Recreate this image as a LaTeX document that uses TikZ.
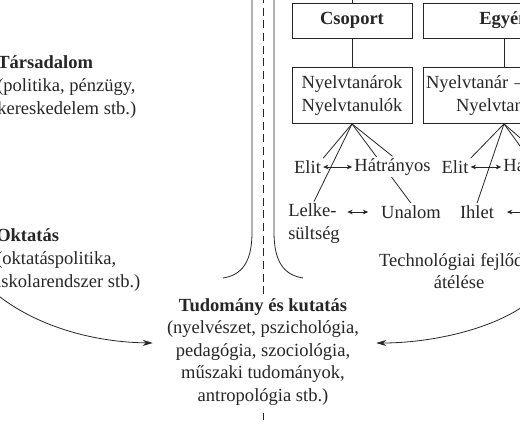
\documentclass[tikz,border=0pt]{standalone}
\usepackage{fontspec}
\setmainfont{Liberation Serif}
\usetikzlibrary{arrows.meta,backgrounds}

\newcommand{\dsize}{\fontsize{13.9}{16.9}\selectfont}

\begin{document}
\begin{tikzpicture}[x=0.75pt,y=-0.75pt,
	every node/.style={font=\dsize,text=black!85},
	kbox/.style={draw=black!85,line width=0.6pt,minimum height=26.25pt,inner sep=0pt},
	txt/.style={fill=white,inner sep=1.5pt},
	line/.style={draw=black!85,line width=0.6pt},
	small arrow/.style={line,{Stealth[length=4pt,width=3.5pt]}-{Stealth[length=4pt,width=3.5pt]}},
	big arrow/.style={line,-{Stealth[length=7.5pt,width=4.5pt]}}
	]

	\useasboundingbox (0,0) rectangle (520,435);
	\clip (0,0) rectangle (520,435);

	% left column
	\node[align=left,anchor=west,inner sep=0pt] (tars) at (-3,87) {\textbf{Társadalom}\\(politika, pénzügy,\\kereskedelem stb.)};
	\node[align=left,anchor=west,inner sep=0pt] (oktatas) at (-4,260) {\textbf{Oktatás}\\(oktatáspolitika,\\iskolarendszer stb.)};

	% boxes
	\node[kbox,minimum width=90pt] (csoport) at (352,20.5) {\textbf{Csoport}};
	\node[kbox,minimum width=121.5pt] (egyen) at (504,20.5) {\textbf{Egyén}};
	\node[kbox,minimum width=90pt,minimum height=42pt,align=center] (tanarok) at (352,95.5) {Nyelvtanárok\\Nyelvtanulók};
	\node[kbox,minimum width=121.5pt,minimum height=42pt,text width=117pt,align=left] (tanar) at (504,95.5) {Nyelvtanár –\\\hspace*{22.5pt}Nyelvtanuló};

	% first group
	\node[txt] (elit1) at (307.5,167) {Elit};
	\node[txt] (hatr1) at (392.5,167) {Hátrányos};
	\node[txt,align=left] (lelke) at (314,223.5) {Lelke-\\sültség};
	\node[txt] (unalom) at (411,212) {Unalom};

	% second group
	\node[txt] (elit2) at (455,167) {Elit};
	\node[txt] (hatr2) at (541.5,167) {Hátrányos};
	\node[txt] (ihlet) at (477,212) {Ihlet};
	\coordinate (ihpar) at (527,212);
	\coordinate (tovabb) at (560,201);

	\node[align=center] (techn) at (459,271) {Technológiai fejlődés\\átélése};

	\node[txt,align=center] (tud) at (263,352) {\textbf{Tudomány és kutatás}\\(nyelvészet, pszichológia,\\pedagógia, szociológia,\\műszaki tudományok,\\antropológia stb.)};

	\coordinate (fent) at (352,-10);
	\coordinate (bal) at (-5,293);
	\coordinate (jobb) at (525,305);

	\draw[small arrow] (elit1) -- (hatr1);
	\draw[small arrow] (elit2) -- (hatr2);
	\draw[small arrow,shorten <=4pt,shorten >=8pt] (lelke.east |- unalom.west) -- (unalom.west);
	\draw[small arrow,shorten <=8pt] (ihlet.east) -- (ihpar);

	\draw[big arrow] (bal) .. controls (30,322) and (85,342) .. ([xshift=-9pt,yshift=6.75pt]tud.west);
	\draw[big arrow] (jobb) .. controls (490,330) and (430,343) .. ([xshift=11.25pt,yshift=6.75pt]tud.east);

	\begin{pgfonlayer}{background}
		\draw[line,dash pattern=on 6pt off 3.5pt] (263,-5) -- (263,420);
		\draw[line] (252,-5) -- (252,232) .. controls (252,262) and (242,275) .. (223,278);
		\draw[line] (274,-5) -- (274,232) .. controls (274,262) and (284,275) .. (303,278);

		\draw[line] (fent) -- (csoport);
		\draw[line] (csoport) -- (tanarok);
		\draw[line] (egyen) -- (tanar);

		\draw[line] (tanarok.south) -- (elit1.north east);
		\draw[line] (tanarok.south) -- (lelke.north);
		\draw[line] (tanarok.south) -- (unalom.north);
		\draw[line] (tanarok.south) -- (hatr1.north);

		\draw[line] (tanar.south) -- (elit2.north east);
		\draw[line] (tanar.south) -- (ihlet.north);
		\draw[line] (tanar.south) -- (hatr2.north);
		\draw[line] (tanar.south) -- (tovabb);
	\end{pgfonlayer}

\end{tikzpicture}
\end{document}
